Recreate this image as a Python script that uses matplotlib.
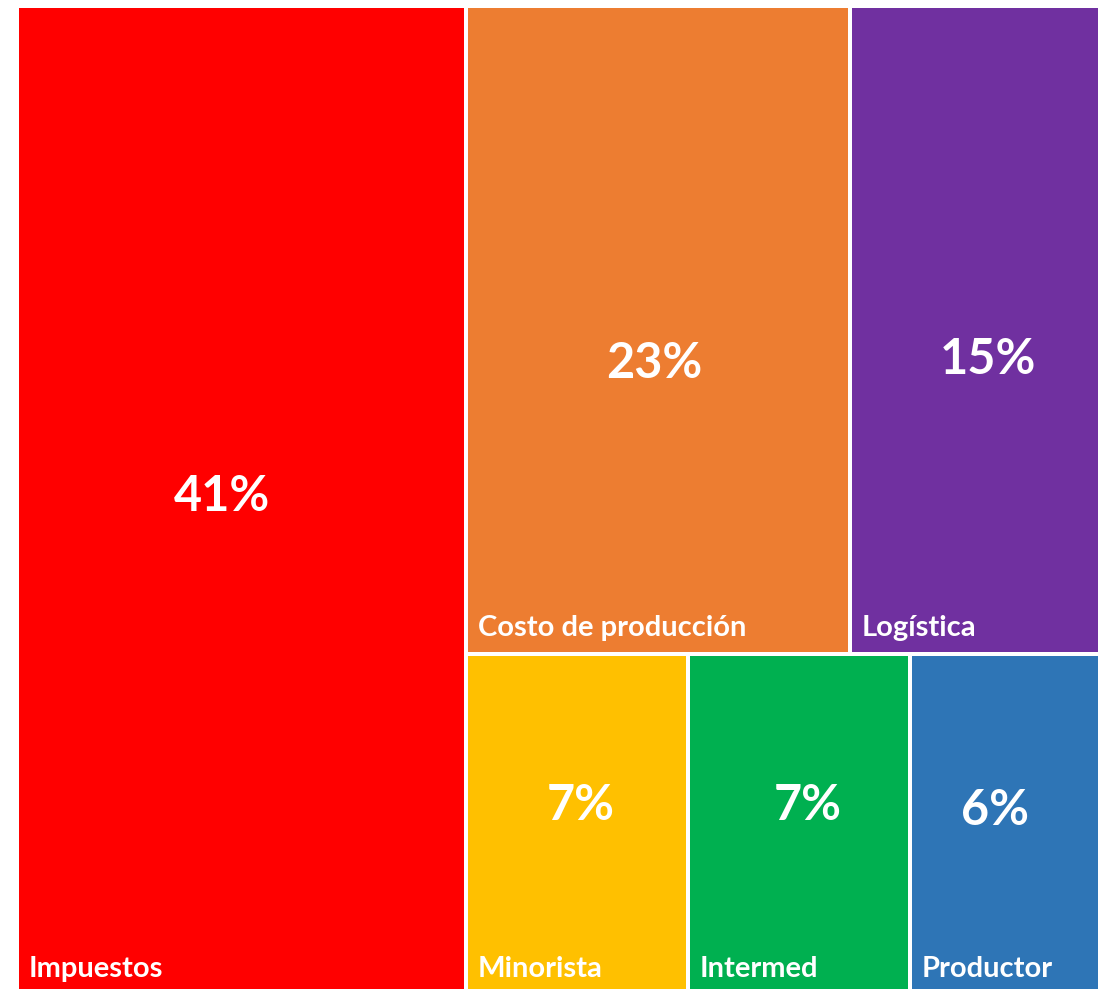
import numpy as np
import matplotlib as mpl
mpl.use('Agg')
import matplotlib.pyplot as plt
from matplotlib.patches import Rectangle

#----- DATA -----
names = ['Impuestos', 'Costo de producción', 'Logística', 'Minorista', 'Intermed', 'Productor']
values = [41, 23, 15, 7, 7, 6]
labels = ['41%', '23%', '15%', '7%', '7%', '6%']

#----- STYLE -----
colors = ['#FF0000', '#ED7D31', '#7030A0', '#FFC000', '#00B050', '#2E75B6']
# small nudges of the value labels (pixels, x right / y down)
nudge = [(-19, -4), (-3, 34), (13, 30), (4, -19), (9, -19), (-10, -14)]
font = 'Lato'
dpi = 100

#----- LAYOUT (slice: first item a column, then two rows) -----
vals = np.array(values, dtype=float)
total = vals.sum()
rects = []
w0 = vals[0] / total
rects.append((0.0, 0.0, w0, 1.0))
rest = vals[1:].sum()
top = vals[1:3]
bot = vals[3:]
h_top = top.sum() / rest
x = w0
for v in top:
    w = (1 - w0) * v / top.sum()
    rects.append((x, 0.0, w, h_top))
    x += w
x = w0
for v in bot:
    w = (1 - w0) * v / bot.sum()
    rects.append((x, h_top, w, 1 - h_top))
    x += w

#------ Figure ----------
fig = plt.figure(figsize=(10.99, 9.89), dpi=dpi)
ax = fig.add_axes([17/1099, -6/989, 1083/1099, 989/989])
ax.set_xlim(0, 1)
ax.set_ylim(1, 0)
ax.axis('off')

px = 72.0 / dpi
for i, (rx, ry, rw, rh) in enumerate(rects):
    ax.add_patch(Rectangle((rx, ry), rw, rh, facecolor=colors[i],
                           edgecolor='white', linewidth=4*px))
    ax.annotate(labels[i], (rx + rw/2, ry + rh/2),
                xytext=(nudge[i][0]*px, -nudge[i][1]*px), textcoords='offset points',
                ha='center', va='center', color='white', fontsize=35,
                fontweight='bold', family=font)
    ax.annotate(names[i], (rx, ry + rh),
                xytext=(12*px, 18*px), textcoords='offset points',
                ha='left', va='baseline', color='white', fontsize=21,
                fontweight='bold', family=font)

fig.savefig('out.png', dpi=dpi)
plt.close(fig)
